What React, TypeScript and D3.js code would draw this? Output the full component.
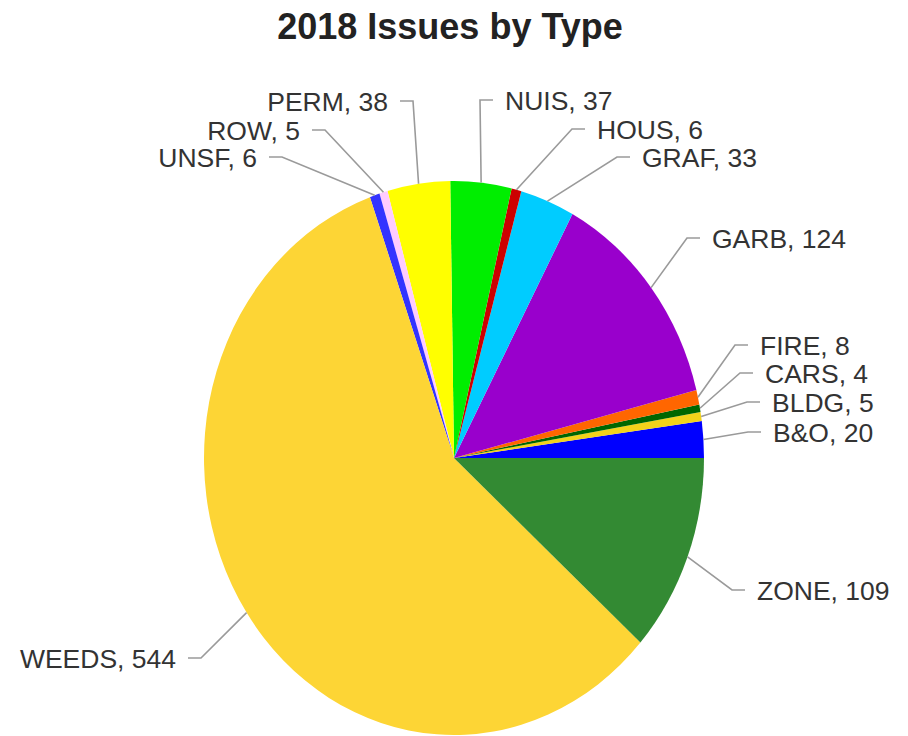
import React from "react";
import * as d3 from "d3";

const categories = ["B&O", "BLDG", "CARS", "FIRE", "GARB", "GRAF", "HOUS", "NUIS", "PERM", "ROW", "UNSF", "WEEDS", "ZONE"];
const counts = [20, 5, 4, 8, 124, 33, 6, 37, 38, 5, 6, 544, 109];
const sliceColors = ["#0000ff", "#f2d21b", "#006600", "#ff6600", "#9900cc", "#00ccff", "#cc0000", "#00ee00", "#ffff00", "#ffccff", "#3333ff", "#fdd535", "#338a33"];
const title = "2018 Issues by Type";

// label layout (text edge x, text center y, side)
const labelX = [773, 772, 765, 760, 712, 642, 597, 505, 388, 300, 257, 176, 757];
const labelY = [432, 402, 373, 345, 238, 157, 129, 100, 101, 130, 157, 658, 590];
const labelSide = ["r", "r", "r", "r", "r", "r", "r", "r", "l", "l", "l", "l", "r"];

const W = 908;
const H = 736;
const CX = 454;
const CY = 458;
const RX = 250;
const RY = 277;

export default function App() {
  const data = categories.map((c, i) => ({ name: c, value: counts[i], color: sliceColors[i], i }));
  const pie = d3
    .pie<any>()
    .sort(null)
    .value((d: any) => d.value)
    .startAngle(Math.PI / 2)
    .endAngle(Math.PI / 2 - 2 * Math.PI);
  const arcs = pie(data);
  const arc = d3.arc<any>().innerRadius(0).outerRadius(RX);
  const sy = RY / RX;

  return (
    <svg
      width={W}
      height={H}
      style={{ position: "absolute", left: 0, top: 0, background: "#fff" }}
      fontFamily="'Liberation Sans', Arial, sans-serif"
    >
      <text x={450} y={39} textAnchor="middle" fontSize={36} fontWeight="bold" fill="#222">
        {title}
      </text>
      <g transform={`translate(${CX},${CY}) scale(1,${sy})`}>
        {arcs.map((a: any, k: number) => (
          <path key={k} d={arc(a) || ""} fill={a.data.color} />
        ))}
      </g>
      {arcs.map((a: any, k: number) => {
        const mid = (a.startAngle + a.endAngle) / 2;
        const px = CX + RX * Math.sin(mid);
        const py = CY - RY * Math.cos(mid);
        const i = a.data.i;
        const side = labelSide[i];
        const tx = labelX[i];
        const ty = labelY[i];
        const dir = side === "r" ? -1 : 1;
        const x1 = tx + dir * 12;
        const x2 = tx + dir * 25;
        return (
          <g key={"l" + k}>
            <polyline
              points={`${x1},${ty} ${x2},${ty} ${px},${py}`}
              fill="none"
              stroke="#9a9a9a"
              strokeWidth={1.6}
            />
            <text
              x={tx}
              y={ty + 9.5}
              textAnchor={side === "r" ? "start" : "end"}
              fontSize={26.5}
              fill="#333"
            >
              {`${a.data.name}, ${a.data.value}`}
            </text>
          </g>
        );
      })}
    </svg>
  );
}
